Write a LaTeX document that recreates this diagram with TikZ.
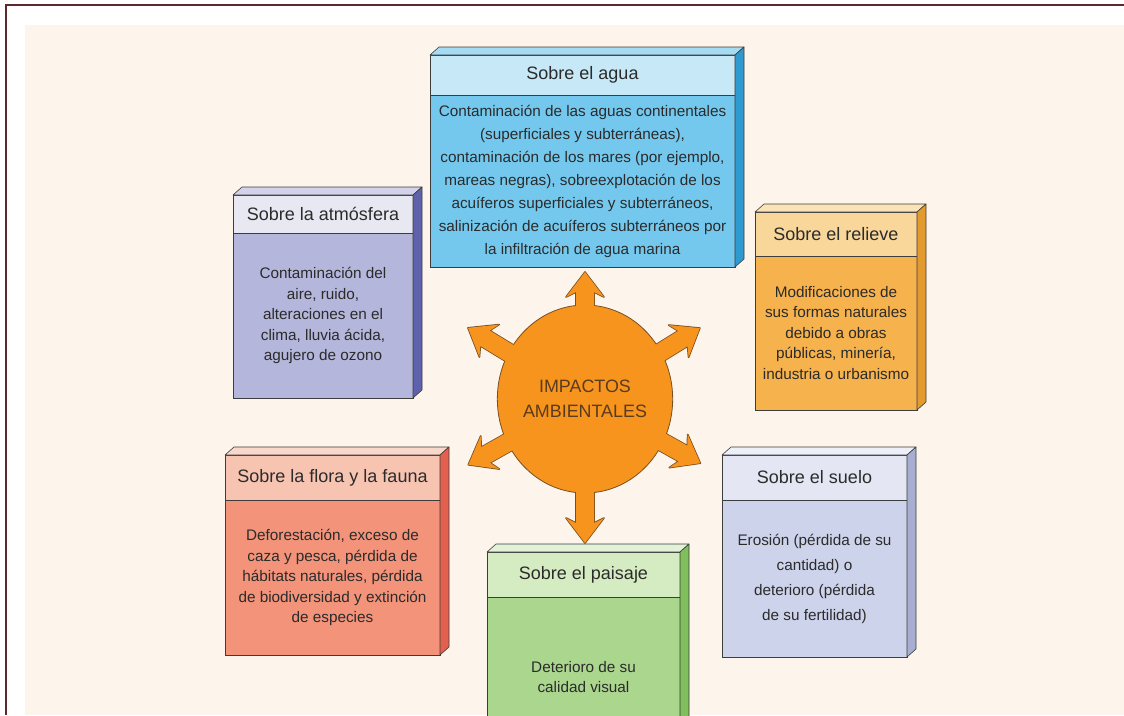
\documentclass[tikz,border=0pt]{standalone}
\usepackage{fontspec}
\setmainfont{Liberation Sans}
\usepackage{tikz}
\usetikzlibrary{shapes.geometric,positioning}

\definecolor{cream}{HTML}{FDF5EB}
\definecolor{frameline}{HTML}{5A2A2E}
\definecolor{boxline}{HTML}{3C3C3C}
\definecolor{txt}{HTML}{2B2B2B}
\definecolor{starfill}{HTML}{F7941D}
\definecolor{staredge}{HTML}{7A4E22}
\definecolor{startxt}{HTML}{5B3B1E}
% colours of the six panels: title, body, top face, side face
\definecolor{aguaH}{HTML}{C6E8F7}\definecolor{aguaF}{HTML}{74C8EE}
\definecolor{aguaTop}{HTML}{A6DCF3}\definecolor{aguaS}{HTML}{2E9AD0}
\definecolor{atmH}{HTML}{E8E8F3}\definecolor{atmF}{HTML}{B5B6DB}
\definecolor{atmTop}{HTML}{D2D3EA}\definecolor{atmS}{HTML}{5E62AC}
\definecolor{relH}{HTML}{F9D69A}\definecolor{relF}{HTML}{F6B24C}
\definecolor{relTop}{HTML}{FBE3B8}\definecolor{relS}{HTML}{E39A2E}
\definecolor{florH}{HTML}{F7C4B2}\definecolor{florF}{HTML}{F2937A}
\definecolor{florTop}{HTML}{F9D8CC}\definecolor{florS}{HTML}{E4604E}
\definecolor{paisH}{HTML}{D5ECC3}\definecolor{paisF}{HTML}{AAD68E}
\definecolor{paisTop}{HTML}{E2F2D6}\definecolor{paisS}{HTML}{7FBF5C}
\definecolor{sueH}{HTML}{E4E7F3}\definecolor{sueF}{HTML}{CDD3EB}
\definecolor{sueTop}{HTML}{EEF0F8}\definecolor{sueS}{HTML}{A8AED2}

\tikzset{
  head/.style={draw=boxline, line width=0.6pt, anchor=north west, inner sep=0pt, outer sep=0pt,
    text=txt, font=\fontsize{18}{20}\selectfont},
  body/.style={draw=boxline, line width=0.6pt, below=0pt of #1, inner sep=0pt, outer sep=0pt,
    align=center, text=txt, font=\fontsize{15.3}{20.5}\selectfont},
  face/.style={draw=boxline, line width=0.6pt, line join=round},
}

\begin{document}
\begin{tikzpicture}[x=1pt,y=-1pt]
\clip (0,0) rectangle (1124,715);
\fill[white] (0,0) rectangle (1124,715);
\fill[cream] (25,25) rectangle (1124,715);
\draw[frameline, line width=2pt] (6,715) -- (6,5) -- (1124,5);

% the six panels
\node[head, fill=aguaH, minimum width=305, minimum height=40] (aguaT) at (430,55) {Sobre el agua};
\node[body=aguaT, fill=aguaF, minimum width=305, minimum height=172,
  font=\fontsize{15.3}{23}\selectfont] (aguaB) {Contaminación de las aguas continentales\\(superficiales y subterráneas),\\contaminación de los mares (por ejemplo,\\mareas negras), sobreexplotación de los\\acuíferos superficiales y subterráneos,\\salinización de acuíferos subterráneos por\\la infiltración de agua marina};

\node[head, fill=atmH, minimum width=180, minimum height=38] (atmT) at (233,195) {Sobre la atmósfera};
\node[body=atmT, fill=atmF, minimum width=180, minimum height=165] (atmB) {Contaminación del\\aire, ruido,\\alteraciones en el\\clima, lluvia ácida,\\agujero de ozono};

\node[head, fill=relH, minimum width=162, minimum height=44] (relT) at (755,212) {Sobre el relieve};
\node[body=relT, fill=relF, minimum width=162, minimum height=154] (relB) {Modificaciones de\\sus formas naturales\\debido a obras\\públicas, minería,\\industria o urbanismo};

\node[head, fill=florH, minimum width=215, minimum height=45] (florT) at (225,455) {Sobre la flora y la fauna};
\node[body=florT, fill=florF, minimum width=215, minimum height=155] (florB) {Deforestación, exceso de\\caza y pesca, pérdida de\\hábitats naturales, pérdida\\de biodiversidad y extinción\\de especies};

\node[head, fill=paisH, minimum width=193, minimum height=45] (paisT) at (487,552) {Sobre el paisaje};
\node[body=paisT, fill=paisF, minimum width=193, minimum height=160] (paisB) {Deterioro de su\\calidad visual};

\node[head, fill=sueH, minimum width=185, minimum height=45] (sueT) at (722,455) {Sobre el suelo};
\node[body=sueT, fill=sueF, minimum width=185, minimum height=157,
  font=\fontsize{15.3}{25}\selectfont] (sueB) {Erosión (pérdida de su\\cantidad) o\\deterioro (pérdida\\de su fertilidad)};

% top and side faces
\foreach \n/\tc/\sc in {agua/aguaTop/aguaS, atm/atmTop/atmS, rel/relTop/relS,
    flor/florTop/florS, pais/paisTop/paisS, sue/sueTop/sueS}{
  \filldraw[face, fill=\tc] (\n T.north west) -- ++(9,-8) -- ([shift={(9,-8)}]\n T.north east) -- (\n T.north east) -- cycle;
  \filldraw[face, fill=\sc] (\n T.north east) -- ++(9,-8) -- ([shift={(9,-8)}]\n B.south east) -- (\n B.south east) -- cycle;
}

% central star
\coordinate (mid) at (585,399);
\foreach \a/\l in {90/127, 148.7/137, 31.7/135, 209.4/134, 330.9/132, 270/144}
  \draw[staredge, line width=1.6pt, line join=round, shift={(mid)}, rotate=\a]
    (70,-9) -- (\l-20,-9) -- (\l-25,-19) -- (\l,0) -- (\l-25,19) -- (\l-20,9) -- (70,9) -- cycle;
\node[ellipse, draw=staredge, fill=starfill, line width=0.8pt, minimum width=166, minimum height=188,
  inner sep=0pt, align=center, text=startxt, font=\fontsize{17.9}{25}\selectfont] (imp) at (mid) {IMPACTOS\\AMBIENTALES};
\foreach \a/\l in {90/127, 148.7/137, 31.7/135, 209.4/134, 330.9/132, 270/144}
  \fill[starfill, shift={(imp.center)}, rotate=\a]
    (70,-9) -- (\l-20,-9) -- (\l-25,-19) -- (\l,0) -- (\l-25,19) -- (\l-20,9) -- (70,9) -- cycle;
\end{tikzpicture}
\end{document}
